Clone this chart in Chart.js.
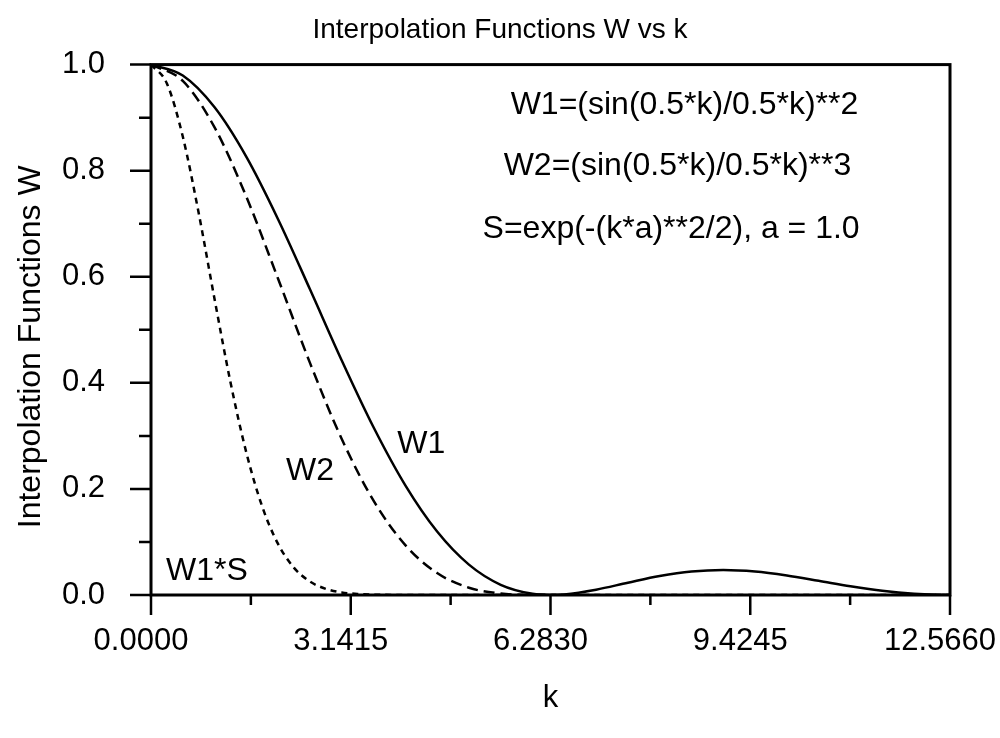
<!DOCTYPE html>
<html>
<head>
<meta charset="utf-8">
<title>Interpolation Functions W vs k</title>
<script src="https://cdn.jsdelivr.net/npm/chart.js@4.4.0/dist/chart.umd.min.js"></script>
<style>
  body { margin: 0; background: #fff; }
  canvas { display: block; }
</style>
</head>
<body>
<canvas id="myChart" width="1000" height="738"></canvas>
<script>
// values
const kMain = [0, 0.5, 1, 1.5, 2, 2.5, 3, 3.5, 4, 4.5, 5, 5.5, 6, 6.283, 6.5, 7, 7.5, 8, 8.5, 9, 9.5, 10, 10.5, 11, 11.5, 12, 12.5, 12.566];
const w1 = [1, 0.9793, 0.9194, 0.8260, 0.7081, 0.5764, 0.4422, 0.3162, 0.2067, 0.1196, 0.0573, 0.0193, 0.0022, 0, 0.0011, 0.0100, 0.0232, 0.0358, 0.0443, 0.0472, 0.0443, 0.0368, 0.0268, 0.0165, 0.0078, 0.0022, 0.00003, 0];
const w2 = [1, 0.9692, 0.8816, 0.7507, 0.5958, 0.4376, 0.2941, 0.1778, 0.0940, 0.0414, 0.0137, 0.0027, 0.0001, 0, -0.00004, -0.0010, -0.0035, -0.0068, -0.0093, -0.0103, -0.0093, -0.0071, -0.0044, -0.0021, -0.0007, -0.0001, 0, 0];

const kS = [0, 0.25, 0.5, 0.75, 1, 1.25, 1.5, 1.75, 2, 2.25, 2.5, 2.75, 3, 3.25, 3.5, 4, 4.5, 5, 6, 8, 10, 12.566];
const w1s = [1, 0.9642, 0.8643, 0.7201, 0.5576, 0.4012, 0.2682, 0.1664, 0.0958, 0.0512, 0.0253, 0.0116, 0.0049, 0.0019, 0.0007, 0.0001, 0, 0, 0, 0, 0, 0];

const xTickVals = [0, 3.1415, 6.283, 9.4245, 12.566];
const xTickLabels = ['0.0000', '3.1415', '6.2830', '9.4245', '12.5660'];
const xMinorVals = [1.57075, 4.71225, 7.85375, 10.99525];
const yTickVals = [0, 0.2, 0.4, 0.6, 0.8, 1.0];
const yMinorVals = [0.1, 0.3, 0.5, 0.7, 0.9];

// text in the plot, placed in data coords
const notes = [
  { text: 'W1=(sin(0.5*k)/0.5*k)**2', x: 8.39, y: 0.923 },
  { text: 'W2=(sin(0.5*k)/0.5*k)**3', x: 8.28, y: 0.809 },
  { text: 'S=exp(-(k*a)**2/2), a = 1.0', x: 8.18, y: 0.690 },
  { text: 'W1', x: 4.25, y: 0.285 },
  { text: 'W2', x: 2.50, y: 0.233 },
  { text: 'W1*S', x: 0.88, y: 0.045 }
];
const yTitle = 'Interpolation Functions W';

const FONT = "'Liberation Sans', Arial, Helvetica, sans-serif";

const toPoints = (xs, ys) => xs.map((x, i) => ({ x: x, y: ys[i] }));

// frame, outward ticks, y title and the text notes
const framePlugin = {
  id: 'frame',
  afterDatasetsDraw(chart) {
    const ctx = chart.ctx;
    const a = chart.chartArea;
    const xs = chart.scales.x;
    const ys = chart.scales.y;
    ctx.save();
    ctx.strokeStyle = '#000';
    ctx.lineWidth = 3;
    ctx.strokeRect(a.left, a.top, a.right - a.left, a.bottom - a.top);

    ctx.lineWidth = 2.5;
    ctx.beginPath();
    xTickVals.forEach(v => {
      const p = xs.getPixelForValue(v);
      ctx.moveTo(p, a.bottom); ctx.lineTo(p, a.bottom + 20);
    });
    xMinorVals.forEach(v => {
      const p = xs.getPixelForValue(v);
      ctx.moveTo(p, a.bottom); ctx.lineTo(p, a.bottom + 10);
    });
    yTickVals.forEach(v => {
      const p = ys.getPixelForValue(v);
      ctx.moveTo(a.left - 21, p); ctx.lineTo(a.left, p);
    });
    yMinorVals.forEach(v => {
      const p = ys.getPixelForValue(v);
      ctx.moveTo(a.left - 12, p); ctx.lineTo(a.left, p);
    });
    ctx.stroke();

    ctx.fillStyle = '#000';
    ctx.font = '32px ' + FONT;
    ctx.textAlign = 'center';
    ctx.textBaseline = 'middle';
    notes.forEach(n => {
      ctx.fillText(n.text, xs.getPixelForValue(n.x), ys.getPixelForValue(n.y));
    });

    // y axis title, sits a bit below the middle of the plot
    ctx.translate(31, (a.top + a.bottom) / 2 + 17);
    ctx.rotate(-Math.PI / 2);
    ctx.fillText(yTitle, 0, 0);
    ctx.restore();
  }
};

const ctx = document.getElementById('myChart').getContext('2d');
const myChart = new Chart(ctx, {
  type: 'line',
  data: {
    datasets: [
      {
        label: 'W1',
        data: toPoints(kMain, w1),
        borderColor: '#000',
        borderWidth: 2.5
      },
      {
        label: 'W2',
        data: toPoints(kMain, w2),
        borderColor: '#000',
        borderWidth: 2.5,
        borderDash: [11, 6]
      },
      {
        label: 'W1*S',
        data: toPoints(kS, w1s),
        borderColor: '#000',
        borderWidth: 2.5,
        borderDash: [6, 5]
      }
    ]
  },
  options: {
    responsive: false,
    animation: false,
    layout: { padding: 0 },
    elements: {
      point: { radius: 0 },
      line: { cubicInterpolationMode: 'monotone', fill: false }
    },
    plugins: {
      legend: { display: false },
      tooltip: { enabled: false },
      title: {
        display: true,
        text: 'Interpolation Functions W vs k',
        color: '#000',
        font: { family: FONT, size: 28, weight: 'normal' },
        padding: { top: 10, bottom: 18 }
      }
    },
    scales: {
      x: {
        type: 'linear',
        min: 0,
        max: 12.566,
        grid: { display: false, drawTicks: false },
        border: { display: false },
        afterBuildTicks: (scale) => {
          scale.ticks = xTickVals.map(v => ({ value: v }));
        },
        afterFit: (scale) => {
          scale.height = 143;
          scale.paddingLeft = 0;
          scale.paddingRight = 50;
        },
        ticks: {
          color: '#000',
          padding: 28,
          labelOffset: -10,
          maxRotation: 0,
          autoSkip: false,
          font: { family: FONT, size: 31 },
          callback: (v, i) => xTickLabels[i]
        },
        title: {
          display: true,
          text: 'k',
          color: '#000',
          font: { family: FONT, size: 31 },
          padding: { top: 0, bottom: 21 }
        }
      },
      y: {
        type: 'linear',
        min: 0,
        max: 1,
        grid: { display: false, drawTicks: false },
        border: { display: false },
        afterBuildTicks: (scale) => {
          scale.ticks = yTickVals.map(v => ({ value: v }));
        },
        afterFit: (scale) => {
          scale.width = 151;
        },
        ticks: {
          color: '#000',
          padding: 46,
          font: { family: FONT, size: 31 },
          callback: (v) => v.toFixed(1)
        },
        title: { display: false }
      }
    }
  },
  plugins: [framePlugin]
});
</script>
</body>
</html>
